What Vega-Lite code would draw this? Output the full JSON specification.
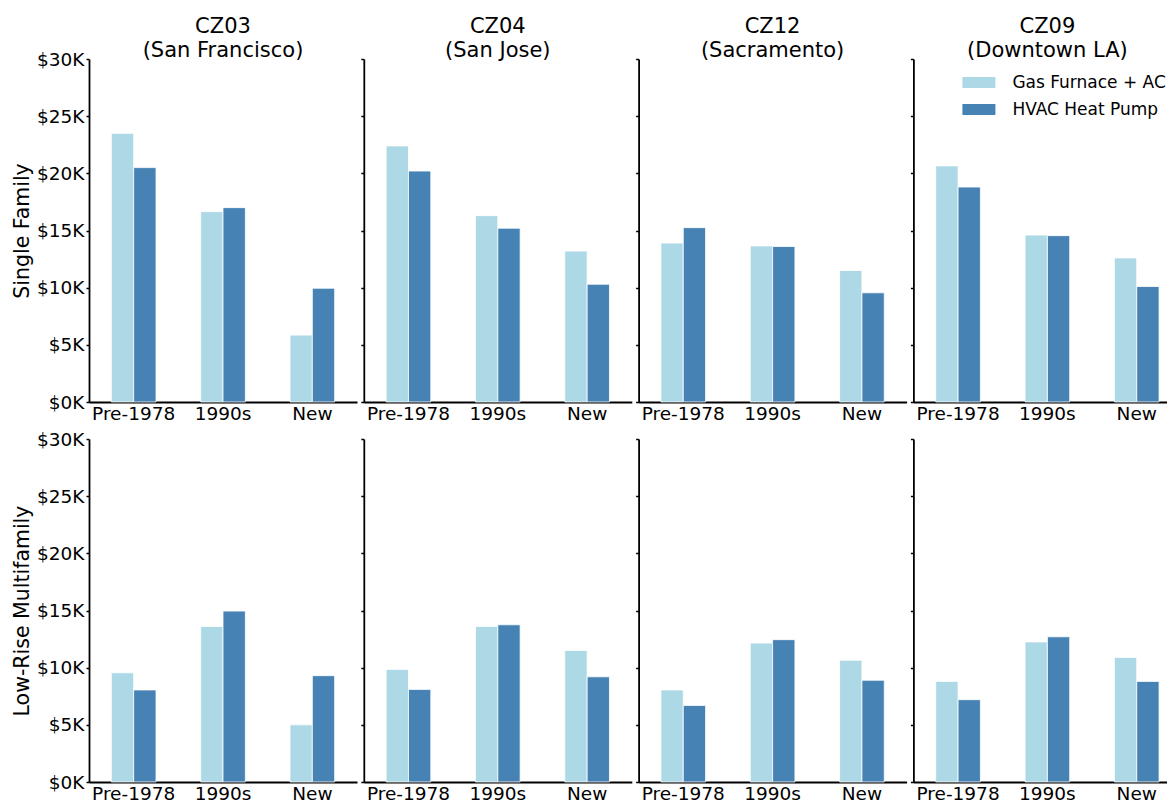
{
  "$schema": "https://vega.github.io/schema/vega-lite/v6.json",
  "padding": {"left": 12, "top": 16, "right": 0, "bottom": 0},
  "background": "white",
  "data": {"values": [
    {"zone": "CZ03", "building": "Single Family", "vintage": "Pre-1978", "system": "Gas Furnace + AC", "cost": 23500},
    {"zone": "CZ03", "building": "Single Family", "vintage": "Pre-1978", "system": "HVAC Heat Pump", "cost": 20500},
    {"zone": "CZ03", "building": "Single Family", "vintage": "1990s", "system": "Gas Furnace + AC", "cost": 16650},
    {"zone": "CZ03", "building": "Single Family", "vintage": "1990s", "system": "HVAC Heat Pump", "cost": 17000},
    {"zone": "CZ03", "building": "Single Family", "vintage": "New", "system": "Gas Furnace + AC", "cost": 5850},
    {"zone": "CZ03", "building": "Single Family", "vintage": "New", "system": "HVAC Heat Pump", "cost": 9950},
    {"zone": "CZ04", "building": "Single Family", "vintage": "Pre-1978", "system": "Gas Furnace + AC", "cost": 22400},
    {"zone": "CZ04", "building": "Single Family", "vintage": "Pre-1978", "system": "HVAC Heat Pump", "cost": 20200},
    {"zone": "CZ04", "building": "Single Family", "vintage": "1990s", "system": "Gas Furnace + AC", "cost": 16300},
    {"zone": "CZ04", "building": "Single Family", "vintage": "1990s", "system": "HVAC Heat Pump", "cost": 15200},
    {"zone": "CZ04", "building": "Single Family", "vintage": "New", "system": "Gas Furnace + AC", "cost": 13200},
    {"zone": "CZ04", "building": "Single Family", "vintage": "New", "system": "HVAC Heat Pump", "cost": 10300},
    {"zone": "CZ12", "building": "Single Family", "vintage": "Pre-1978", "system": "Gas Furnace + AC", "cost": 13900},
    {"zone": "CZ12", "building": "Single Family", "vintage": "Pre-1978", "system": "HVAC Heat Pump", "cost": 15250},
    {"zone": "CZ12", "building": "Single Family", "vintage": "1990s", "system": "Gas Furnace + AC", "cost": 13650},
    {"zone": "CZ12", "building": "Single Family", "vintage": "1990s", "system": "HVAC Heat Pump", "cost": 13600},
    {"zone": "CZ12", "building": "Single Family", "vintage": "New", "system": "Gas Furnace + AC", "cost": 11500},
    {"zone": "CZ12", "building": "Single Family", "vintage": "New", "system": "HVAC Heat Pump", "cost": 9550},
    {"zone": "CZ09", "building": "Single Family", "vintage": "Pre-1978", "system": "Gas Furnace + AC", "cost": 20650},
    {"zone": "CZ09", "building": "Single Family", "vintage": "Pre-1978", "system": "HVAC Heat Pump", "cost": 18800},
    {"zone": "CZ09", "building": "Single Family", "vintage": "1990s", "system": "Gas Furnace + AC", "cost": 14600},
    {"zone": "CZ09", "building": "Single Family", "vintage": "1990s", "system": "HVAC Heat Pump", "cost": 14550},
    {"zone": "CZ09", "building": "Single Family", "vintage": "New", "system": "Gas Furnace + AC", "cost": 12600},
    {"zone": "CZ09", "building": "Single Family", "vintage": "New", "system": "HVAC Heat Pump", "cost": 10100},
    {"zone": "CZ03", "building": "Low-Rise Multifamily", "vintage": "Pre-1978", "system": "Gas Furnace + AC", "cost": 9550},
    {"zone": "CZ03", "building": "Low-Rise Multifamily", "vintage": "Pre-1978", "system": "HVAC Heat Pump", "cost": 8050},
    {"zone": "CZ03", "building": "Low-Rise Multifamily", "vintage": "1990s", "system": "Gas Furnace + AC", "cost": 13600},
    {"zone": "CZ03", "building": "Low-Rise Multifamily", "vintage": "1990s", "system": "HVAC Heat Pump", "cost": 14950},
    {"zone": "CZ03", "building": "Low-Rise Multifamily", "vintage": "New", "system": "Gas Furnace + AC", "cost": 5000},
    {"zone": "CZ03", "building": "Low-Rise Multifamily", "vintage": "New", "system": "HVAC Heat Pump", "cost": 9300},
    {"zone": "CZ04", "building": "Low-Rise Multifamily", "vintage": "Pre-1978", "system": "Gas Furnace + AC", "cost": 9850},
    {"zone": "CZ04", "building": "Low-Rise Multifamily", "vintage": "Pre-1978", "system": "HVAC Heat Pump", "cost": 8100},
    {"zone": "CZ04", "building": "Low-Rise Multifamily", "vintage": "1990s", "system": "Gas Furnace + AC", "cost": 13600},
    {"zone": "CZ04", "building": "Low-Rise Multifamily", "vintage": "1990s", "system": "HVAC Heat Pump", "cost": 13750},
    {"zone": "CZ04", "building": "Low-Rise Multifamily", "vintage": "New", "system": "Gas Furnace + AC", "cost": 11500},
    {"zone": "CZ04", "building": "Low-Rise Multifamily", "vintage": "New", "system": "HVAC Heat Pump", "cost": 9200},
    {"zone": "CZ12", "building": "Low-Rise Multifamily", "vintage": "Pre-1978", "system": "Gas Furnace + AC", "cost": 8050},
    {"zone": "CZ12", "building": "Low-Rise Multifamily", "vintage": "Pre-1978", "system": "HVAC Heat Pump", "cost": 6700},
    {"zone": "CZ12", "building": "Low-Rise Multifamily", "vintage": "1990s", "system": "Gas Furnace + AC", "cost": 12150},
    {"zone": "CZ12", "building": "Low-Rise Multifamily", "vintage": "1990s", "system": "HVAC Heat Pump", "cost": 12450},
    {"zone": "CZ12", "building": "Low-Rise Multifamily", "vintage": "New", "system": "Gas Furnace + AC", "cost": 10650},
    {"zone": "CZ12", "building": "Low-Rise Multifamily", "vintage": "New", "system": "HVAC Heat Pump", "cost": 8900},
    {"zone": "CZ09", "building": "Low-Rise Multifamily", "vintage": "Pre-1978", "system": "Gas Furnace + AC", "cost": 8800},
    {"zone": "CZ09", "building": "Low-Rise Multifamily", "vintage": "Pre-1978", "system": "HVAC Heat Pump", "cost": 7200},
    {"zone": "CZ09", "building": "Low-Rise Multifamily", "vintage": "1990s", "system": "Gas Furnace + AC", "cost": 12250},
    {"zone": "CZ09", "building": "Low-Rise Multifamily", "vintage": "1990s", "system": "HVAC Heat Pump", "cost": 12700},
    {"zone": "CZ09", "building": "Low-Rise Multifamily", "vintage": "New", "system": "Gas Furnace + AC", "cost": 10900},
    {"zone": "CZ09", "building": "Low-Rise Multifamily", "vintage": "New", "system": "HVAC Heat Pump", "cost": 8800}
  ]},
  "config": {
    "view": {"stroke": null},
    "font": "DejaVu Sans",
    "axis": {
      "grid": false,
      "domainColor": "black",
      "domainWidth": 1.8,
      "tickColor": "black",
      "tickWidth": 1.5,
      "labelColor": "black",
      "labelFont": "DejaVu Sans",
      "labelFontSize": 18.5,
      "titleFont": "DejaVu Sans",
      "titleFontSize": 20.5,
      "titleFontWeight": "normal",
      "titleColor": "black"
    },
    "axisX": {"labelAngle": 0, "ticks": false, "labelPadding": 2, "title": null},
    "axisY": {"tickSize": 3, "labelPadding": 2, "titlePadding": 4},
    "title": {"font": "DejaVu Sans", "fontSize": 21, "fontWeight": "normal", "color": "black", "lineHeight": 24, "offset": -3, "anchor": "middle", "frame": "group"},
    "legend": {
      "orient": "top-right",
      "offset": 15,
      "title": null,
      "labelFont": "DejaVu Sans",
      "labelFontSize": 17,
      "labelColor": "black",
      "labelOffset": 36,
      "rowPadding": 9,
      "symbolType": "M-1,-1L5,-1L5,1L-1,1Z",
      "symbolSize": 121,
      "symbolStrokeWidth": 0,
      "symbolOpacity": 1,
      "padding": 0
    }
  },
  "spacing": 7,
  "resolve": {"legend": {"color": "independent"}},
  "vconcat": [
    {
      "spacing": 2.8,
      "resolve": {"legend": {"color": "independent"}},
      "hconcat": [
        {
          "title": {"text": ["CZ03", "(San Francisco)"], "offset": -11},
          "width": 268, "height": 343,
          "transform": [{"filter": "datum.zone === 'CZ03' && datum.building === 'Single Family'"}],
          "mark": {"type": "bar", "stroke": "white", "strokeWidth": 0.8},
          "encoding": {
            "x": {"field": "vintage", "type": "nominal", "sort": ["Pre-1978", "1990s", "New"], "scale": {"paddingInner": 0.5, "paddingOuter": 0.25}},
            "xOffset": {"field": "system", "type": "nominal"},
            "y": {"field": "cost", "type": "quantitative", "title": "Single Family", "scale": {"domain": [0, 30000], "nice": false}, "axis": {"values": [0, 5000, 10000, 15000, 20000, 25000, 30000], "labelExpr": "'$' + format(datum.value / 1000, 'd') + 'K'"}},
            "color": {"field": "system", "type": "nominal", "scale": {"domain": ["Gas Furnace + AC", "HVAC Heat Pump"], "range": ["#ADD8E6", "#4682B4"]}, "legend": null}
          }
        },
        {
          "title": {"text": ["CZ04", "(San Jose)"]},
          "width": 268, "height": 343,
          "transform": [{"filter": "datum.zone === 'CZ04' && datum.building === 'Single Family'"}],
          "mark": {"type": "bar", "stroke": "white", "strokeWidth": 0.8},
          "encoding": {
            "x": {"field": "vintage", "type": "nominal", "sort": ["Pre-1978", "1990s", "New"], "scale": {"paddingInner": 0.5, "paddingOuter": 0.25}},
            "xOffset": {"field": "system", "type": "nominal"},
            "y": {"field": "cost", "type": "quantitative", "title": null, "scale": {"domain": [0, 30000], "nice": false}, "axis": {"values": [0, 5000, 10000, 15000, 20000, 25000, 30000], "labels": false}},
            "color": {"field": "system", "type": "nominal", "scale": {"domain": ["Gas Furnace + AC", "HVAC Heat Pump"], "range": ["#ADD8E6", "#4682B4"]}, "legend": null}
          }
        },
        {
          "title": {"text": ["CZ12", "(Sacramento)"]},
          "width": 268, "height": 343,
          "transform": [{"filter": "datum.zone === 'CZ12' && datum.building === 'Single Family'"}],
          "mark": {"type": "bar", "stroke": "white", "strokeWidth": 0.8},
          "encoding": {
            "x": {"field": "vintage", "type": "nominal", "sort": ["Pre-1978", "1990s", "New"], "scale": {"paddingInner": 0.5, "paddingOuter": 0.25}},
            "xOffset": {"field": "system", "type": "nominal"},
            "y": {"field": "cost", "type": "quantitative", "title": null, "scale": {"domain": [0, 30000], "nice": false}, "axis": {"values": [0, 5000, 10000, 15000, 20000, 25000, 30000], "labels": false}},
            "color": {"field": "system", "type": "nominal", "scale": {"domain": ["Gas Furnace + AC", "HVAC Heat Pump"], "range": ["#ADD8E6", "#4682B4"]}, "legend": null}
          }
        },
        {
          "title": {"text": ["CZ09", "(Downtown LA)"]},
          "width": 268, "height": 343,
          "transform": [{"filter": "datum.zone === 'CZ09' && datum.building === 'Single Family'"}],
          "mark": {"type": "bar", "stroke": "white", "strokeWidth": 0.8},
          "encoding": {
            "x": {"field": "vintage", "type": "nominal", "sort": ["Pre-1978", "1990s", "New"], "scale": {"paddingInner": 0.5, "paddingOuter": 0.25}},
            "xOffset": {"field": "system", "type": "nominal"},
            "y": {"field": "cost", "type": "quantitative", "title": null, "scale": {"domain": [0, 30000], "nice": false}, "axis": {"values": [0, 5000, 10000, 15000, 20000, 25000, 30000], "labels": false}},
            "color": {"field": "system", "type": "nominal", "scale": {"domain": ["Gas Furnace + AC", "HVAC Heat Pump"], "range": ["#ADD8E6", "#4682B4"]}, "legend": {"orient": "top-right"}}
          }
        }
      ]
    },
    {
      "spacing": 2.8,
      "resolve": {"legend": {"color": "independent"}},
      "hconcat": [
        {
          "width": 268, "height": 343,
          "transform": [{"filter": "datum.zone === 'CZ03' && datum.building === 'Low-Rise Multifamily'"}],
          "mark": {"type": "bar", "stroke": "white", "strokeWidth": 0.8},
          "encoding": {
            "x": {"field": "vintage", "type": "nominal", "sort": ["Pre-1978", "1990s", "New"], "scale": {"paddingInner": 0.5, "paddingOuter": 0.25}},
            "xOffset": {"field": "system", "type": "nominal"},
            "y": {"field": "cost", "type": "quantitative", "title": "Low-Rise Multifamily", "scale": {"domain": [0, 30000], "nice": false}, "axis": {"values": [0, 5000, 10000, 15000, 20000, 25000, 30000], "labelExpr": "'$' + format(datum.value / 1000, 'd') + 'K'"}},
            "color": {"field": "system", "type": "nominal", "scale": {"domain": ["Gas Furnace + AC", "HVAC Heat Pump"], "range": ["#ADD8E6", "#4682B4"]}, "legend": null}
          }
        },
        {
          "width": 268, "height": 343,
          "transform": [{"filter": "datum.zone === 'CZ04' && datum.building === 'Low-Rise Multifamily'"}],
          "mark": {"type": "bar", "stroke": "white", "strokeWidth": 0.8},
          "encoding": {
            "x": {"field": "vintage", "type": "nominal", "sort": ["Pre-1978", "1990s", "New"], "scale": {"paddingInner": 0.5, "paddingOuter": 0.25}},
            "xOffset": {"field": "system", "type": "nominal"},
            "y": {"field": "cost", "type": "quantitative", "title": null, "scale": {"domain": [0, 30000], "nice": false}, "axis": {"values": [0, 5000, 10000, 15000, 20000, 25000, 30000], "labels": false}},
            "color": {"field": "system", "type": "nominal", "scale": {"domain": ["Gas Furnace + AC", "HVAC Heat Pump"], "range": ["#ADD8E6", "#4682B4"]}, "legend": null}
          }
        },
        {
          "width": 268, "height": 343,
          "transform": [{"filter": "datum.zone === 'CZ12' && datum.building === 'Low-Rise Multifamily'"}],
          "mark": {"type": "bar", "stroke": "white", "strokeWidth": 0.8},
          "encoding": {
            "x": {"field": "vintage", "type": "nominal", "sort": ["Pre-1978", "1990s", "New"], "scale": {"paddingInner": 0.5, "paddingOuter": 0.25}},
            "xOffset": {"field": "system", "type": "nominal"},
            "y": {"field": "cost", "type": "quantitative", "title": null, "scale": {"domain": [0, 30000], "nice": false}, "axis": {"values": [0, 5000, 10000, 15000, 20000, 25000, 30000], "labels": false}},
            "color": {"field": "system", "type": "nominal", "scale": {"domain": ["Gas Furnace + AC", "HVAC Heat Pump"], "range": ["#ADD8E6", "#4682B4"]}, "legend": null}
          }
        },
        {
          "width": 268, "height": 343,
          "transform": [{"filter": "datum.zone === 'CZ09' && datum.building === 'Low-Rise Multifamily'"}],
          "mark": {"type": "bar", "stroke": "white", "strokeWidth": 0.8},
          "encoding": {
            "x": {"field": "vintage", "type": "nominal", "sort": ["Pre-1978", "1990s", "New"], "scale": {"paddingInner": 0.5, "paddingOuter": 0.25}},
            "xOffset": {"field": "system", "type": "nominal"},
            "y": {"field": "cost", "type": "quantitative", "title": null, "scale": {"domain": [0, 30000], "nice": false}, "axis": {"values": [0, 5000, 10000, 15000, 20000, 25000, 30000], "labels": false}},
            "color": {"field": "system", "type": "nominal", "scale": {"domain": ["Gas Furnace + AC", "HVAC Heat Pump"], "range": ["#ADD8E6", "#4682B4"]}, "legend": null}
          }
        }
      ]
    }
  ]
}
